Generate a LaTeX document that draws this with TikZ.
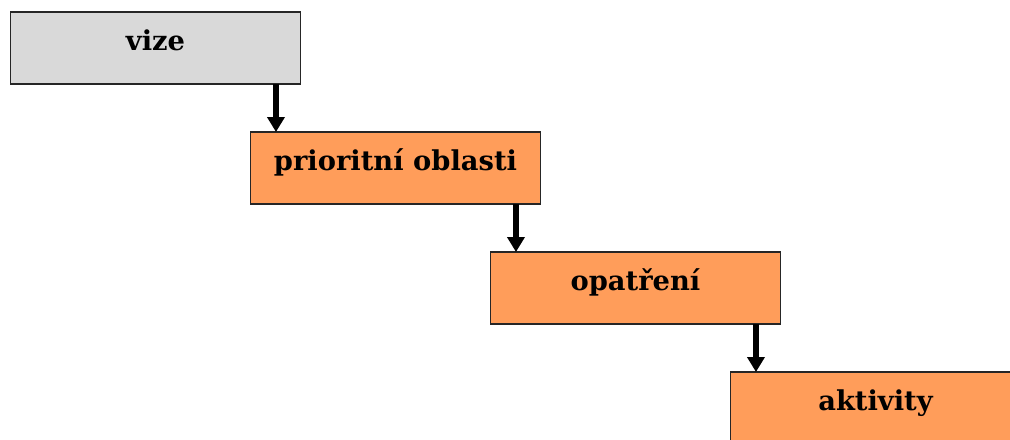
\documentclass[tikz,border=0pt]{standalone}
\usepackage{fontspec}
\setmainfont{DejaVu Serif}
\usepackage{tikz}
\usetikzlibrary{arrows.meta, positioning}

\definecolor{vizegray}{RGB}{217,217,217}
\definecolor{stepfill}{RGB}{255,157,90}

\begin{document}
\begin{tikzpicture}[x=0.75pt, y=-0.75pt,
    box/.style={rectangle, draw=black!85, line width=1.1pt, fill=stepfill,
        minimum width=217.5pt, minimum height=54pt, inner sep=0pt, outer sep=0pt,
        text height=12pt, text depth=9pt, font=\bfseries\fontsize{20.5}{24}\selectfont},
    flow/.style={line width=3.9pt, -{Triangle[width=12.75pt, length=11.25pt]}}]
    \useasboundingbox (0,0) rectangle (1010,439);
    \clip (0,0) rectangle (1010,439);

    \node (vize) [box, fill=vizegray, anchor=north west] at (10.5,12) {vize};
    \node (oblasti) [box, below right=36pt and -37.5pt of vize] {prioritní oblasti};
    \node (opatreni) [box, below right=36pt and -37.5pt of oblasti] {opatření};
    \node (aktivity) [box, below right=36pt and -37.5pt of opatreni] {aktivity};

    \draw[flow] ([xshift=-18.4pt]vize.south east) -- ([xshift=-18.4pt]vize.south east |- oblasti.north);
    \draw[flow] ([xshift=-18.4pt]oblasti.south east) -- ([xshift=-18.4pt]oblasti.south east |- opatreni.north);
    \draw[flow] ([xshift=-18.4pt]opatreni.south east) -- ([xshift=-18.4pt]opatreni.south east |- aktivity.north);

\end{tikzpicture}
\end{document}
